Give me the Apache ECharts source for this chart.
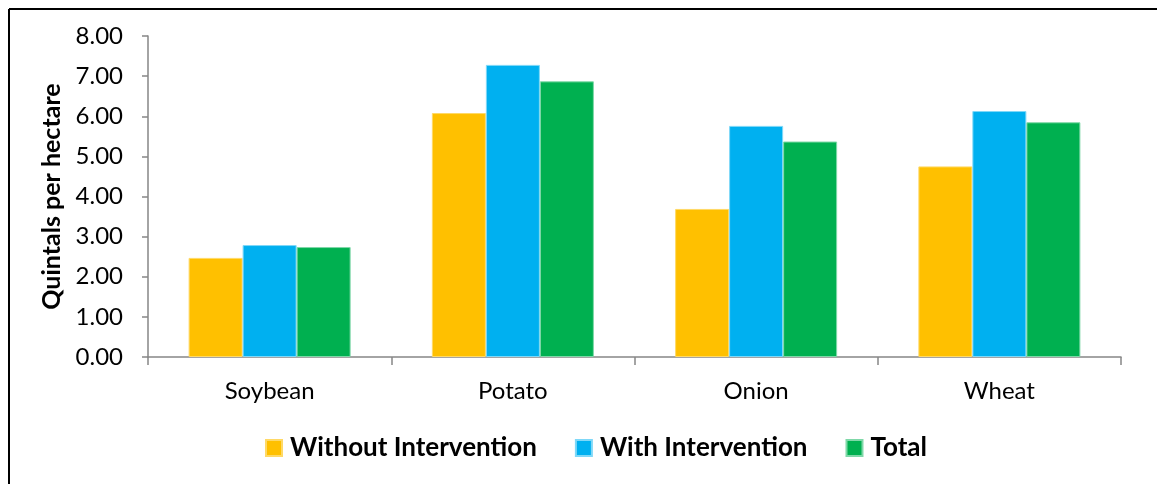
<!DOCTYPE html>
<html>
<head>
<meta charset="utf-8">
<script src="https://cdn.jsdelivr.net/npm/echarts@6/dist/echarts.min.js"></script>
<style>
html,body{margin:0;padding:0;background:#fff;}
#chart{width:1157px;height:484px;}
</style>
</head>
<body>
<div id="chart"></div>
<script>
const categories = ['Soybean', 'Potato', 'Onion', 'Wheat'];
const withoutIntervention = [2.47, 6.08, 3.69, 4.75];
const withIntervention = [2.79, 7.28, 5.76, 6.13];
const total = [2.74, 6.87, 5.37, 5.85];
const seriesNames = ['Without Intervention', 'With Intervention', 'Total'];
const yTicks = { min: 0, max: 8, interval: 1 };

const font = 'Lato, "Open Sans", sans-serif';
const colors = ['#FFC000', '#00B0F0', '#00B050'];
const borders = ['#FFD966', '#7FD8F8', '#7FD8A8'];
const chart = echarts.init(document.getElementById('chart'), null, { renderer: 'canvas' });
const data = [withoutIntervention, withIntervention, total];
chart.setOption({
  animation: false,
  backgroundColor: '#fff',
  color: colors,
  grid: { left: 148, right: 36, top: 36, bottom: 127, containLabel: false },
  graphic: [
    { type: 'line', shape: { x1: 9, y1: 9, x2: 1157, y2: 9 }, style: { stroke: '#000', lineWidth: 2 } },
    { type: 'line', shape: { x1: 9, y1: 9, x2: 9, y2: 484 }, style: { stroke: '#000', lineWidth: 2 } }
  ],
  legend: {
    data: seriesNames,
    top: 430,
    left: 260,
    icon: 'rect',
    itemWidth: 16,
    itemHeight: 16,
    itemGap: 38,
    textStyle: { fontFamily: font, fontWeight: 'bold', fontSize: 26, color: '#000', padding: [0, 0, 0, 3] }
  },
  xAxis: {
    type: 'category',
    data: categories,
    axisLine: { lineStyle: { color: '#868686', width: 1.5 } },
    axisTick: { show: true, alignWithLabel: false, length: 8, lineStyle: { color: '#868686', width: 1.5 } },
    axisLabel: { fontFamily: font, fontSize: 24, color: '#000', margin: 22 }
  },
  yAxis: {
    type: 'value',
    min: yTicks.min,
    max: yTicks.max,
    interval: yTicks.interval,
    name: 'Quintals per hectare',
    nameLocation: 'middle',
    nameGap: 80,
    nameTextStyle: { fontFamily: font, fontWeight: 'bold', fontSize: 25, color: '#000' },
    axisLine: { show: true, lineStyle: { color: '#868686', width: 1.5 } },
    axisTick: { show: true, length: 6, lineStyle: { color: '#868686', width: 1.5 } },
    splitLine: { show: false },
    axisLabel: { fontFamily: font, fontSize: 24, color: '#000', margin: 25, formatter: v => v.toFixed(2) }
  },
  series: seriesNames.map((name, i) => ({
    name,
    type: 'bar',
    data: data[i],
    barWidth: '22.2%',
    barGap: '0%',
    itemStyle: { color: colors[i], borderColor: borders[i], borderWidth: 1 }
  }))
});
</script>
</body>
</html>
